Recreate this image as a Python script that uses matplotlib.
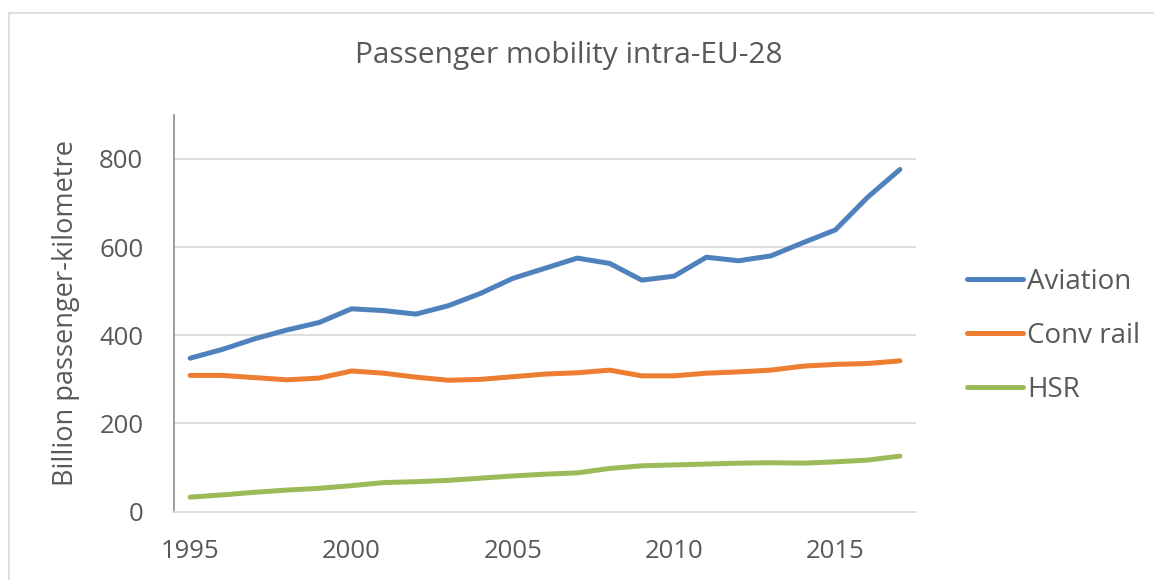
import matplotlib
matplotlib.use("Agg")
import matplotlib.pyplot as plt
from matplotlib.patches import Rectangle

# Data
years = list(range(1995, 2018))
aviation = [348, 368, 392, 412, 429, 460, 456, 448, 467, 495, 529, 552,
            575, 563, 525, 534, 577, 569, 580, 610, 639, 713, 776]
conv_rail = [309, 309, 304, 299, 303, 319, 314, 305, 298, 300, 306, 312,
             315, 321, 308, 308, 314, 317, 321, 330, 334, 336, 342]
hsr = [33, 38, 44, 49, 53, 59, 66, 68, 71, 76, 81, 85,
       88, 98, 104, 106, 108, 110, 111, 110, 113, 117, 126]
series_names = ["Aviation", "Conv rail", "HSR"]
colors = ["#4F81BD", "#ED7D31", "#9BBB59"]
x_ticks = [1995, 2000, 2005, 2010, 2015]
y_ticks = [0, 200, 400, 600, 800]

plt.rcParams["font.family"] = ["Open Sans", "DejaVu Sans"]
text_color = "#595959"

fig = plt.figure(figsize=(11.54, 5.80), dpi=100)
ax = fig.add_axes([0.1508, 0.1178, 0.6430, 0.6843])

# light chart border like the Excel chart area
fig.patches.append(Rectangle((9 / 1154, -0.1), 1.2, 1 - 13 / 580 + 0.1,
                             transform=fig.transFigure, fill=False,
                             edgecolor="#D9D9D9", linewidth=1.2))

for vals, name, c in zip([aviation, conv_rail, hsr], series_names, colors):
    ax.plot(years, vals, color=c, linewidth=3.6, label=name,
            solid_capstyle="round", solid_joinstyle="round")

ax.set_xlim(1994.5, 2017.5)
ax.set_ylim(0, 900)
ax.set_xticks(x_ticks)
ax.set_yticks(y_ticks)
ax.tick_params(axis="both", length=0, labelsize=18.5, colors=text_color)
ax.tick_params(axis="x", pad=20)
ax.tick_params(axis="y", pad=22)

for y in y_ticks[1:]:
    ax.axhline(y, color="#D9D9D9", linewidth=1.2, zorder=0)

ax.spines["top"].set_visible(False)
ax.spines["right"].set_visible(False)
ax.spines["left"].set_color("#8C8C8C")
ax.spines["left"].set_linewidth(1.2)
ax.spines["bottom"].set_color("#D9D9D9")
ax.spines["bottom"].set_linewidth(1.2)

ax.set_ylabel("Billion passenger-kilometre", fontsize=19.5, color=text_color,
              labelpad=14)
fig.text(569 / 1154, 1 - 56 / 580, "Passenger mobility intra-EU-28",
         fontsize=21.5, color=text_color, ha="center", va="center")

leg = ax.legend(loc="center left", bbox_to_anchor=(1.069, 0.4427), frameon=False,
                fontsize=20, handlelength=2.0, handletextpad=0.15,
                labelspacing=0.93, labelcolor=text_color,
                borderpad=0, borderaxespad=0)

plt.savefig("out.png", dpi=100)
plt.close()
